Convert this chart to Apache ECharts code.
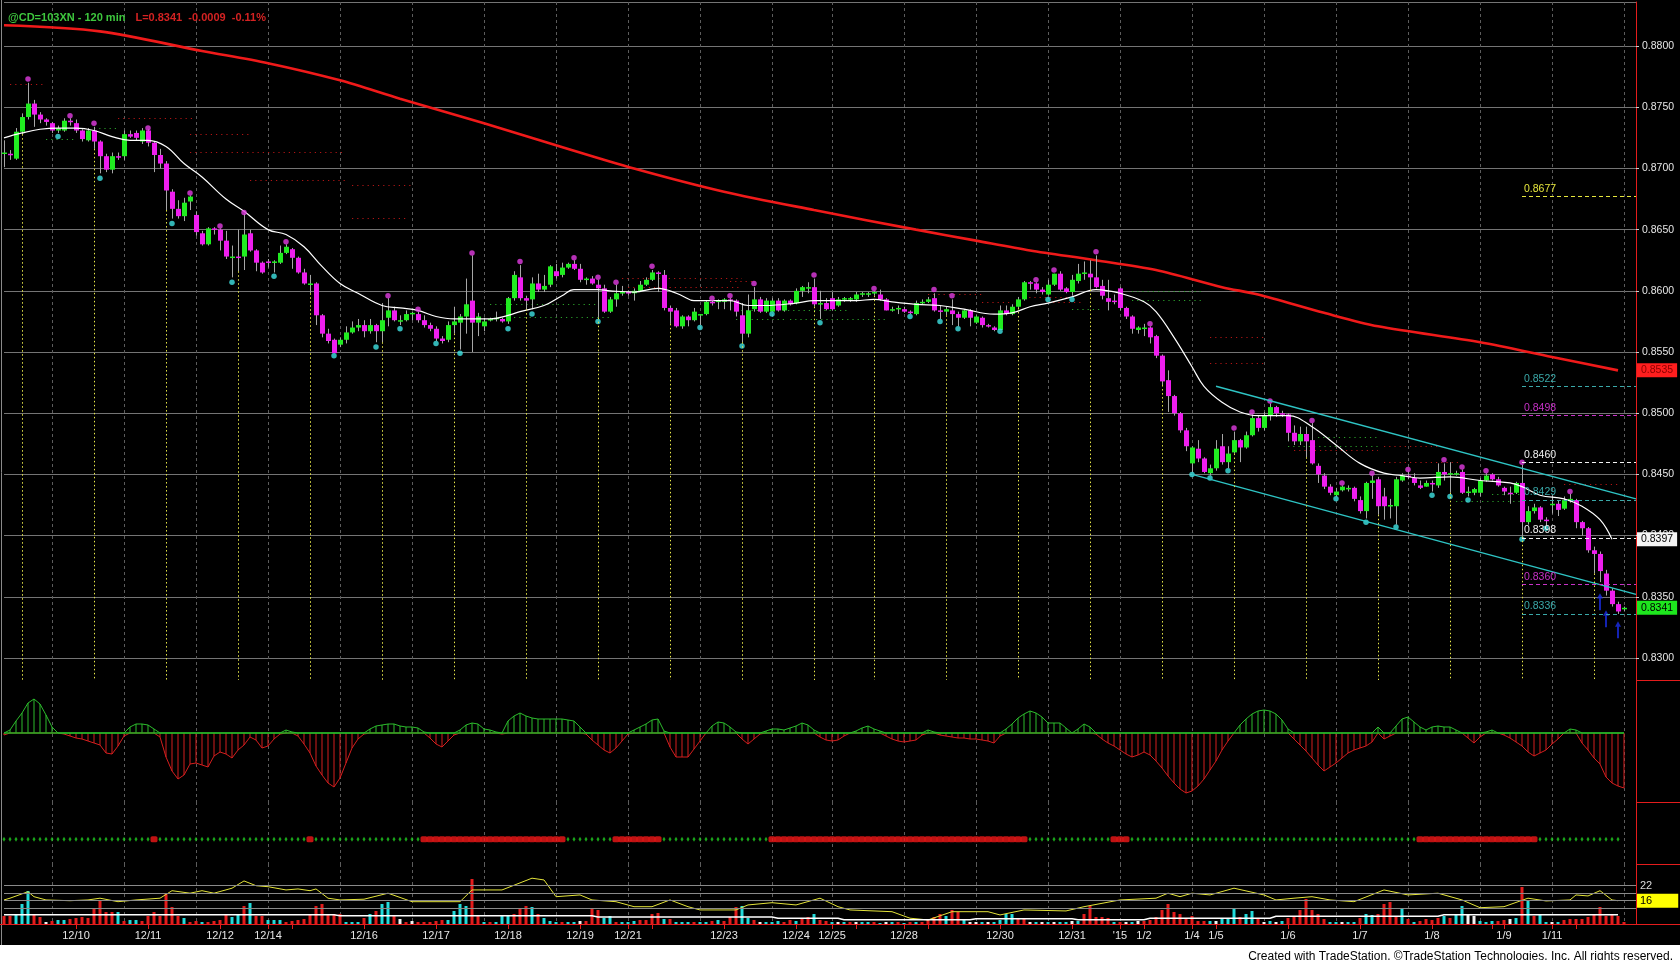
<!DOCTYPE html>
<html>
<head>
<meta charset="utf-8">
<title>@CD=103XN - 120 min</title>
<script src="https://cdn.jsdelivr.net/npm/echarts@6/dist/echarts.min.js"></script>
<style>
  html, body { margin: 0; padding: 0; background: #000; }
  #chart { width: 1680px; height: 960px; }
</style>
</head>
<body>
<div id="chart"></div>
<script>
// ===== data (prices in 1/10000, one entry per 120 min bar) =====
const opens = [
8712,8712,8708,8730,8742,8753,8744,8740,8737,8731, 8731,8739,8737,8731,8723,8731,8722,8710,8699,8710,
8710,8728,8729,8722,8731,8721,8711,8704,8681,8667, 8661,8673,8662,8647,8638,8651,8650,8641,8627,8628,
8628,8647,8633,8623,8624,8623,8623,8631,8634,8627, 8615,8605,8606,8580,8565,8560,8556,8560,8566,8570,
8572,8567,8572,8567,8578,8584,8575,8576,8581,8581, 8576,8572,8569,8561,8560,8572,8574,8579,8592,8574,
8571,8576,8577,8577,8575,8594,8611,8594,8593,8606, 8601,8605,8616,8613,8619,8622,8618,8609,8610,8605,
8602,8583,8593,8598,8599,8598,8600,8605,8609,8615, 8613,8586,8584,8571,8579,8576,8580,8581,8591,8591,
8591,8593,8592,8580,8565,8585,8593,8583,8583,8592, 8584,8592,8590,8600,8602,8603,8589,8590,8594,8588,
8593,8593,8593,8597,8597,8598,8597,8593,8584,8585, 8585,8583,8581,8590,8591,8594,8584,8583,8584,8581,
8578,8584,8574,8578,8572,8570,8568,8584,8581,8587, 8593,8607,8606,8601,8597,8605,8614,8602,8599,8608,
8614,8614,8611,8604,8594,8592,8602,8586,8579,8568, 8569,8570,8563,8547,8527,8514,8500,8486,8459,8471,
8463,8451,8455,8473,8460,8468,8478,8472,8482,8496, 8488,8498,8505,8500,8499,8484,8477,8483,8478,8457,
8449,8440,8433,8437,8438,8439,8429,8420,8443,8446, 8432,8424,8424,8445,8449,8447,8441,8440,8443,8441,
8452,8450,8450,8452,8435,8435,8435,8445,8450,8446, 8439,8435,8435,8443,8411,8420,8423,8413,8425,8426,
8422,8429,8429,8411,8406,8388,8385,8369,8355,8344, 8340
];
const closes = [
8713,8711,8730,8742,8753,8744,8740,8738,8731,8733, 8739,8738,8731,8724,8731,8722,8710,8699,8710,8709,
8728,8726,8725,8731,8721,8711,8704,8682,8667,8661, 8672,8677,8648,8638,8651,8650,8641,8628,8628,8627,
8646,8633,8623,8615,8623,8624,8631,8636,8627,8615, 8606,8606,8580,8565,8559,8549,8560,8566,8570,8572,
8567,8572,8567,8576,8584,8576,8576,8581,8582,8576, 8572,8569,8561,8559,8572,8575,8579,8589,8574,8579,
8575,8577,8578,8575,8594,8613,8594,8592,8606,8601, 8604,8620,8612,8619,8622,8618,8609,8610,8606,8602,
8583,8593,8598,8599,8598,8600,8605,8609,8615,8614, 8586,8583,8571,8579,8576,8583,8581,8591,8590,8592,
8593,8592,8583,8565,8584,8593,8583,8592,8592,8584, 8592,8589,8600,8603,8603,8589,8590,8585,8585,8593,
8594,8594,8597,8598,8598,8599,8593,8584,8585,8586, 8583,8582,8590,8591,8593,8584,8583,8585,8581,8578,
8584,8578,8579,8572,8571,8568,8584,8581,8587,8593, 8607,8606,8601,8599,8605,8614,8601,8599,8609,8614,
8615,8611,8603,8596,8591,8591,8586,8579,8569,8570, 8570,8562,8547,8526,8514,8500,8486,8473,8472,8463,
8452,8455,8471,8460,8467,8478,8472,8482,8496,8488, 8498,8505,8500,8499,8484,8477,8483,8477,8459,8450,
8440,8435,8436,8440,8439,8430,8420,8443,8445,8424, 8424,8425,8446,8449,8448,8443,8439,8443,8442,8452,
8450,8451,8451,8435,8436,8438,8445,8449,8446,8441, 8436,8434,8443,8411,8420,8423,8413,8412,8426,8421,
8429,8430,8411,8406,8388,8385,8371,8355,8344,8338, 8341
];
const highs = [
8723,8715,8733,8745,8770,8756,8746,8741,8738,8735, 8741,8741,8740,8732,8733,8734,8723,8712,8713,8713,
8731,8731,8731,8733,8732,8722,8716,8706,8683,8674, 8676,8678,8665,8649,8652,8652,8651,8649,8637,8650,
8663,8650,8634,8624,8626,8625,8637,8638,8635,8628, 8618,8613,8607,8581,8569,8561,8562,8571,8575,8577,
8576,8577,8573,8590,8594,8587,8580,8584,8583,8583, 8580,8574,8571,8563,8575,8587,8581,8610,8629,8582,
8578,8578,8583,8578,8595,8616,8621,8596,8611,8614, 8613,8621,8622,8623,8623,8625,8622,8611,8612,8609,
8605,8595,8605,8604,8600,8602,8608,8611,8617,8616, 8617,8588,8586,8580,8580,8586,8581,8592,8592,8593,
8594,8594,8593,8590,8597,8603,8595,8594,8594,8594, 8593,8593,8602,8604,8607,8610,8600,8594,8599,8595,
8595,8595,8599,8599,8599,8600,8601,8594,8587,8588, 8587,8584,8592,8593,8595,8598,8588,8587,8593,8583,
8585,8585,8580,8579,8573,8571,8588,8588,8589,8595, 8608,8608,8607,8603,8609,8614,8616,8603,8613,8622,
8624,8625,8629,8609,8609,8597,8603,8587,8580,8571, 8573,8571,8564,8548,8535,8515,8501,8488,8473,8478,
8464,8458,8478,8483,8473,8485,8479,8485,8499,8498, 8501,8508,8506,8502,8500,8490,8489,8489,8492,8459,
8451,8442,8439,8441,8441,8440,8432,8444,8449,8448, 8439,8430,8448,8451,8452,8451,8445,8445,8445,8459,
8459,8460,8453,8454,8440,8439,8447,8451,8451,8448, 8440,8440,8444,8458,8424,8426,8424,8415,8433,8429,
8432,8434,8430,8412,8407,8391,8387,8372,8357,8346, 8342
];
const lows = [
8701,8707,8707,8728,8740,8734,8737,8735,8729,8729, 8730,8735,8729,8722,8722,8716,8696,8697,8696,8707,
8707,8725,8723,8720,8718,8697,8700,8666,8659,8659, 8657,8666,8645,8637,8637,8646,8633,8626,8611,8616,
8617,8632,8616,8614,8619,8615,8622,8630,8618,8614, 8605,8598,8572,8562,8557,8549,8554,8557,8565,8567,
8562,8565,8558,8558,8571,8575,8572,8575,8576,8574, 8570,8567,8559,8557,8558,8565,8552,8565,8550,8563,
8567,8575,8575,8574,8573,8592,8592,8585,8585,8599, 8599,8603,8610,8611,8618,8617,8607,8605,8605,8578,
8582,8582,8587,8596,8596,8592,8599,8604,8608,8599, 8584,8573,8570,8569,8571,8575,8572,8580,8588,8585,
8585,8584,8579,8558,8562,8583,8582,8582,8583,8583, 8583,8588,8589,8595,8598,8587,8577,8584,8584,8587,
8591,8591,8591,8595,8595,8596,8592,8584,8583,8581, 8582,8581,8580,8589,8590,8583,8577,8580,8572,8571,
8577,8571,8573,8570,8570,8567,8569,8580,8580,8586, 8592,8601,8598,8597,8596,8604,8600,8598,8596,8606,
8609,8601,8602,8593,8584,8589,8584,8577,8565,8565, 8563,8557,8545,8523,8501,8498,8484,8469,8452,8460,
8451,8449,8453,8458,8455,8467,8460,8471,8481,8485, 8486,8494,8497,8497,8477,8474,8474,8464,8458,8443,
8438,8433,8432,8436,8436,8428,8418,8414,8430,8417, 8413,8414,8409,8444,8446,8441,8438,8440,8436,8439,
8445,8435,8449,8434,8432,8433,8432,8444,8445,8440, 8433,8426,8434,8399,8409,8418,8411,8408,8418,8416,
8421,8427,8406,8400,8386,8369,8362,8351,8342,8336, 8338
];

// swing markers
const highDotBars = [4,11,15,24,31,36,40,47,64,69,78,86,95,99,102,108,118,121,125,135,145,155,158,172,175,182,191,205,208,211,218,223,228,234,240,243,247,253,261];
const highDotVals = [8773,8743,8737,8733,8680,8653,8664,8640,8596,8585,8631,8624,8627,8611,8607,8620,8594,8596,8606,8613,8602,8601,8596,8609,8617,8632,8573,8488,8501,8510,8494,8443,8451,8454,8462,8456,8453,8460,8436];
const lowDotBars = [9,16,28,38,45,55,62,66,72,76,84,88,99,116,123,128,136,151,156,159,166,174,178,198,201,204,222,227,232,238,241,244,253,257];
const lowDotVals = [8726,8692,8655,8607,8612,8547,8554,8569,8557,8549,8569,8581,8575,8570,8555,8581,8574,8579,8575,8569,8567,8593,8593,8450,8447,8453,8430,8411,8407,8433,8432,8429,8397,8406];
const arrowBars = [266, 267, 269];
const arrowVals = [8346, 8332, 8323];

// averages: [bar, price]
const slowAvg = [[0,8817],[16,8812],[33,8796],[44,8786],[56,8772],[66,8757],[80,8737],[92,8719],[105,8700],[120,8681],[135,8666],[152,8650],[162,8641],[171,8633],[182,8625],[192,8617],[203,8603],[209,8597],[220,8582],[229,8571],[246,8558],[258,8546],[269,8535]];
const fastAvg = [[0,8725],[3,8729],[6,8732],[9,8733],[12,8733],[15,8731],[18,8726],[21,8723],[24,8723],[27,8718],[30,8704],[33,8693],[37,8675],[40,8665],[44,8650],[47,8646],[50,8636],[53,8620],[56,8606],[59,8598],[63,8588],[66,8586],[69,8584],[72,8579],[75,8577],[78,8577],[81,8577],[84,8580],[86,8583],[90,8588],[93,8596],[95,8601],[99,8601],[101,8600],[105,8599],[109,8602],[111,8600],[113,8596],[115,8592],[117,8592],[121,8592],[124,8588],[127,8588],[132,8590],[135,8592],[138,8592],[142,8592],[145,8593],[148,8591],[152,8589],[156,8588],[160,8585],[165,8581],[168,8582],[171,8587],[174,8590],[178,8595],[182,8601],[186,8598],[190,8591],[192,8583],[195,8562],[198,8538],[200,8522],[203,8509],[206,8501],[209,8498],[214,8498],[218,8489],[222,8474],[226,8459],[230,8451],[233,8449],[236,8447],[241,8448],[246,8445],[251,8443],[253,8440],[256,8433],[260,8430],[263,8424],[266,8413],[268,8397]];

// channel, session starts, day grid
const channelUpper = [[202, 8522], [272, 8430]];
const channelLower = [[198, 8450], [272, 8352]];
const sessionBars = [3,15,27,39,51,63,75,87,99,111,123,135,145,157,169,181,193,205,217,229,241,253,265];
const dayGridBars = [8,20,32,44,56,68,80,92,104,116,128,138,150,162,174,186,198,210,222,234,246,258,270];

// dotted support / resistance stubs: [from bar, to bar, price]
const redStubs = [[1,7,8769],[19,32,8741],[31,41,8728],[31,57,8713],[41,57,8690],[58,68,8686],[58,67,8659],[103,123,8610],[104,123,8603],[121,125,8608],[154,163,8597],[163,168,8591],[170,178,8595],[174,180,8591],[201,210,8562],[201,210,8541],[215,229,8470],[230,239,8473],[230,243,8460],[260,269,8442]];
const greenStubs = [[7,12,8724],[15,19,8733],[81,99,8589],[85,101,8578],[122,141,8584],[122,130,8577],[131,147,8577],[178,183,8585],[188,200,8600],[188,200,8592],[214,229,8473],[219,229,8480],[242,253,8428],[248,253,8434]];

// right side levels
const levelStart = 253;
const levelVals = [0.8677, 0.8522, 0.8498, 0.8460, 0.8429, 0.8398, 0.8360, 0.8336];
const tagVals = [0.8535, 0.8397, 0.8341];

// oscillator (one value per bar)
const osc = [
-2,3,12,20,30,34,29,18,6,0, -1,-3,-5,-6,-8,-10,-12,-20,-21,-13,
-3,6,9,9,8,4,-4,-24,-38,-46, -42,-31,-30,-32,-34,-23,-19,-21,-25,-17,
-12,-4,-7,-15,-13,-6,-1,3,1,-3, -11,-20,-33,-42,-50,-54,-45,-30,-15,-6,
-1,4,7,8,9,9,7,6,6,5, 1,-5,-11,-14,-8,-2,3,8,10,9,
4,3,1,-1,12,17,20,17,15,14, 14,14,14,14,13,12,6,-1,-7,-12,
-17,-20,-15,-8,-1,3,6,9,13,14, 2,-14,-24,-24,-24,-16,-8,0,7,11,
10,6,1,-6,-11,-6,-1,2,4,4, 3,5,7,10,8,3,-4,-7,-8,-7,
-3,0,2,5,7,4,2,-3,-6,-8, -9,-8,-7,-2,3,1,-2,-3,-4,-5,
-5,-6,-6,-7,-8,-10,-3,4,9,15, 19,22,20,16,10,10,10,5,0,4,
9,6,-1,-6,-10,-13,-17,-21,-24,-22, -19,-22,-28,-35,-43,-50,-56,-60,-58,-53,
-46,-37,-28,-17,-8,0,8,14,19,22, 23,22,19,13,4,-6,-12,-18,-25,-32,
-38,-34,-30,-25,-20,-17,-15,-13,-9,6, -6,-3,7,14,16,11,6,3,6,7,
6,6,3,0,-5,-10,-4,1,3,0, -2,-5,-9,-13,-19,-23,-20,-17,-11,-6,
0,4,3,-10,-17,-25,-31,-44,-50,-53, -55
];

// red runs in the dot row (inclusive bar ranges)
const redRuns = [[25,25],[51,51],[70,93],[102,109],[128,170],[185,187],[236,255]];
const dotLastBar = 269;

// volume and its colour code: r = down, c = up, w = unchanged
const vol = [
8,8,9,20,33,9,7,2,3,4, 4,5,6,7,6,15,24,12,12,12, 3,4,4,3,8,12,8,30,17,8, 6,2,3,2,2,3,4,9,7,10,
18,21,8,8,4,4,4,2,3,4, 5,9,18,20,10,10,10,2,2,2, 6,10,13,20,22,8,5,2,3,2, 2,2,3,4,4,13,20,18,45,8,
2,2,2,8,8,10,15,18,17,10, 6,3,2,2,2,2,3,3,16,14, 6,8,2,2,2,3,4,4,10,11, 5,5,2,2,2,2,2,2,3,4,
3,7,17,18,6,4,2,2,2,3, 2,4,3,5,7,10,4,3,2,2, 2,2,2,2,2,2,1,2,2,2, 1,2,2,2,5,7,10,8,14,12,
5,2,2,2,2,2,4,10,10,5, 5,2,2,2,2,2,2,2,3,3, 10,18,7,7,6,2,2,2,2,3, 3,4,7,14,20,12,10,5,8,3,
3,3,3,5,5,15,7,10,13,5, 2,3,2,3,6,8,14,25,14,10, 5,2,2,2,2,2,6,10,9,10, 20,22,8,16,5,2,3,5,4,6,
8,6,10,18,10,8,3,2,3,3, 4,5,6,37,23,8,9,2,2,2, 4,5,5,5,7,10,17,8,10,8, 2
];
const volKind =
  'rrcccrrwrc' + 'crrrrrrrrc' + 'rccrrrrrrr' + 'crrcrrrrcc' + 'rcrrcccrrr' +
  'rrrrrrrccc' + 'rcrccrwrwr' + 'rrrrccccrr' + 'crcccrrrcr' + 'cccrccwrrr' +
  'ccrcccrrrr' + 'crcccrccrc' + 'rrrccrwccc' + 'rrcrrcrrcw' + 'crwccrcwcr' +
  'crcrrrrcrr' + 'cwwcwccccr' + 'rwcwcwccwc' + 'rrrrrcrwcw' + 'rrrrrrrrrr' +
  'rcwcccrccr' + 'wcwcrrrrrr' + 'rccwccrccr' + 'rrrcrcrrrr' + 'crccwwcccr' +
  'rwcrcrccwc' + 'rrrrrrrrrr' + 'r';
const volAvg = [[0,9.3],[55,9.3],[56,8.3],[98,8.3],[99,7],[128,7],[129,5.7],[139,5.7],[140,4.3],[161,4.3],[162,5.3],[178,5.3],[179,4.3],[190,4.3],[191,5.7],[211,5.7],[212,7.7],[239,7.7],[240,9.3],[269,9.3]];
const yellowLine = [[0,16.3],[1,17.0],[4,19.6],[5,17.6],[7,16.3],[11,16.0],[14,16.3],[16,17.0],[19,15.6],[22,16.3],[26,17.0],[28,20.0],[31,19.0],[33,20.0],[35,19.0],[38,21.0],[40,23.9],[42,22.0],[44,21.6],[47,20.3],[49,20.7],[51,20.0],[52,20.7],[54,17.0],[56,16.3],[60,16.6],[64,19.0],[68,15.6],[76,15.6],[78,20.3],[83,20.3],[88,25.0],[90,24.3],[92,17.6],[96,18.3],[98,16.3],[102,15.6],[105,13.6],[108,13.6],[111,16.3],[114,13.6],[116,12.3],[122,12.3],[124,14.3],[128,15.2],[132,14.3],[136,17.0],[139,13.6],[141,12.3],[148,11.6],[151,9.0],[154,8.3],[158,11.6],[164,11.6],[166,10.3],[170,12.3],[177,11.9],[180,13.6],[186,16.3],[192,17.0],[194,19.0],[196,17.6],[198,19.0],[201,18.3],[205,21.0],[210,18.3],[212,16.3],[215,17.0],[218,17.6],[221,16.3],[225,15.6],[230,20.3],[234,18.3],[239,19.0],[243,16.3],[246,13.2],[250,13.6],[254,17.0],[257,15.9],[261,16.3],[262,18.3],[264,17.9],[266,20.0],[268,16.3],[269,16.0]];
const yellowRefs = [13, 16, 19, 22];

// date axis
const dateBars = [12,24,36,44,60,72,84,96,104,120,132,138,150,166,178,186,190,198,202,214,226,238,250,258];
const dateLabels = ['12/10','12/11','12/12','12/14','12/16','12/17','12/18','12/19','12/21','12/23','12/24','12/25','12/28','12/30','12/31',"'15",'1/2','1/4','1/5','1/6','1/7','1/8','1/9','1/11'];
const extraTickBars = [48, 108, 142, 154, 248, 262];

// ===== layout / style =====
const N_CAT = 273;
const PRICE_MIN = 0.8282, PRICE_MAX = 0.8836;
const FONT = 'Liberation Sans, Arial, sans-serif';
const GRID_L = 4, GRID_R = 44;
const levelColors = ['#e6e63c', '#3aa9a9', '#c832c8', '#f2f2f2', '#3aa9a9', '#f2f2f2', '#c832c8', '#3aa9a9'];
const tagStyles = [
  { bg: '#ff1e1e', fg: '#8c0000' },
  { bg: '#f4f4f4', fg: '#000' },
  { bg: '#1ee61e', fg: '#000' },
];
const volColors = { r: '#e41c1c', c: '#22dcdc', w: '#f2f2f2' };
const OSC_UP = '#2cbc2c', OSC_DN = '#d41e1e';
const HIDDEN = 'rgba(0,0,0,0)';

const px = v => v / 10000;
const cats = Array.from({ length: N_CAT }, (_, i) => String(i));
const daySet = new Set(dayGridBars);
const labelAt = {};
dateBars.forEach((b, k) => { labelAt[b] = dateLabels[k]; });
const tickSet = new Set(dateBars.concat(extraTickBars));

function xAxisFor(gi, withLabels) {
  return {
    type: 'category', gridIndex: gi, data: cats, boundaryGap: false,
    axisLine: { show: withLabels, onZero: false, lineStyle: { color: '#e41c1c', width: 1 } },
    axisTick: { show: withLabels, interval: i => tickSet.has(i), length: 5, lineStyle: { color: '#e41c1c' } },
    axisLabel: {
      show: withLabels, interval: i => labelAt[i] !== undefined, margin: 6,
      color: '#e6e6e6', fontSize: 11, fontFamily: FONT,
      formatter: (v, i) => labelAt[i] || '',
    },
    splitLine: { show: true, interval: i => daySet.has(i), lineStyle: { color: '#5c5c5c', type: [3, 3], width: 1 } },
  };
}

function sideAxis(gi, min, max) {
  return {
    type: 'value', gridIndex: gi, position: 'right', min, max,
    axisLine: { show: true, lineStyle: { color: '#e41c1c' } },
    axisTick: { show: false }, axisLabel: { show: false }, splitLine: { show: false },
  };
}

// ===== series =====
const candleData = opens.map((o, i) => [i, px(o), px(closes[i]), px(lows[i]), px(highs[i])]);

function renderCandle(params, api) {
  const i = api.value(0);
  const o = api.value(1), c = api.value(2), l = api.value(3), h = api.value(4);
  const pO = api.coord([i, o]), pC = api.coord([i, c]);
  const pH = api.coord([i, h]), pL = api.coord([i, l]);
  const cx = Math.round(pO[0]);
  const w = Math.max(3, Math.round(api.size([1, 0])[0] * 0.8));
  const top = Math.min(pO[1], pC[1]);
  const hgt = Math.max(1.5, Math.abs(pO[1] - pC[1]));
  return {
    type: 'group',
    children: [
      { type: 'line', shape: { x1: cx + 0.5, y1: pH[1], x2: cx + 0.5, y2: pL[1] }, style: { stroke: '#a6a6a6', lineWidth: 1 } },
      { type: 'rect', shape: { x: cx + 0.5 - w / 2, y: top, width: w, height: hgt }, style: { fill: c >= o ? '#20ec20' : '#ee1eee' } },
    ],
  };
}

// price tag on the axis: invisible line, boxed label at its right end
const tagLine = (v, k) => ({
  yAxis: v,
  lineStyle: { color: HIDDEN, width: 0 },
  label: {
    show: true, position: 'end', distance: 1, formatter: v.toFixed(4),
    backgroundColor: tagStyles[k].bg, color: tagStyles[k].fg,
    fontSize: 10.5, fontFamily: FONT, padding: [2, 4, 1, 4],
  },
});

const stubPairs = (list, color) => list.map(s => [
  { coord: [s[0], px(s[2])], lineStyle: { color } },
  { coord: [s[1], px(s[2])] },
]);

const series = [];

// price panel
series.push({
  name: 'bars', type: 'custom', xAxisIndex: 0, yAxisIndex: 0, renderItem: renderCandle,
  data: candleData, encode: { x: 0, y: [1, 2, 3, 4] }, z: 5,
});
series.push({
  name: 'slow', type: 'line', xAxisIndex: 0, yAxisIndex: 0, data: slowAvg.map(p => [p[0], px(p[1])]),
  smooth: 0.3, symbol: 'none', lineStyle: { color: '#f01a1a', width: 2.6 }, z: 4,
  markLine: {
    silent: true, symbol: 'none', animation: false, z: 10, precision: 5,
    data: [
      [{ coord: [channelUpper[0][0], px(channelUpper[0][1])] }, { coord: [channelUpper[1][0], px(channelUpper[1][1])] }],
      [{ coord: [channelLower[0][0], px(channelLower[0][1])] }, { coord: [channelLower[1][0], px(channelLower[1][1])] }],
      tagLine(tagVals[0], 0),
    ],
    lineStyle: { color: '#2ec4c4', width: 1.4, type: 'solid' },
    label: { show: false },
  },
});
series.push({
  name: 'fast', type: 'line', xAxisIndex: 0, yAxisIndex: 0, data: fastAvg.map(p => [p[0], px(p[1])]),
  smooth: 0.4, symbol: 'none', lineStyle: { color: '#ffffff', width: 1.2 }, z: 6,
  markLine: {
    silent: true, symbol: 'none', animation: false, z: 10, precision: 5,
    data: sessionBars.map(b => [{ coord: [b, px(lows[b])] }, { coord: [b, PRICE_MIN] }]).concat([tagLine(tagVals[1], 1)]),
    lineStyle: { color: '#e8e84a', width: 1, type: [1.5, 2.5] },
    label: { show: false },
  },
});
series.push({
  name: 'swing highs', type: 'scatter', xAxisIndex: 0, yAxisIndex: 0,
  data: highDotBars.map((b, k) => [b, px(highDotVals[k])]),
  symbol: 'circle', symbolSize: 5.5, itemStyle: { color: '#e23ce2' }, z: 7,
  markLine: {
    silent: true, symbol: 'none', animation: false, precision: 5,
    data: stubPairs(redStubs, '#b01414').concat(stubPairs(greenStubs, '#2aa02a')),
    lineStyle: { width: 1.2, type: [1.2, 4] },
    label: { show: false },
  },
});
series.push({
  name: 'swing lows', type: 'scatter', xAxisIndex: 0, yAxisIndex: 0,
  data: lowDotBars.map((b, k) => [b, px(lowDotVals[k])]),
  symbol: 'circle', symbolSize: 5.5, itemStyle: { color: '#3ee2e2' }, z: 7,
  markLine: {
    silent: true, symbol: 'none', animation: false, z: 10, precision: 5,
    data: levelVals.map((v, k) => [
      {
        coord: [levelStart, v], lineStyle: { color: levelColors[k] },
        label: { show: true, position: 'insideStartTop', distance: 2, formatter: v.toFixed(4), color: levelColors[k], fontSize: 10.5, fontFamily: FONT },
      },
      { coord: [N_CAT - 1, v] },
    ]).concat([tagLine(tagVals[2], 2)]),
    lineStyle: { width: 1, type: [4, 3] },
  },
});
series.push({
  name: 'arrows', type: 'scatter', xAxisIndex: 0, yAxisIndex: 0,
  data: arrowBars.map((b, k) => [b, px(arrowVals[k])]),
  symbol: 'path://M5 0 L10 7 L6.6 7 L6.6 22 L3.4 22 L3.4 7 L0 7 Z', symbolSize: [6, 17],
  itemStyle: { color: '#1a2ee8' }, z: 8,
});

// oscillator panel: histogram lines, outline split by sign, green zero line
series.push({
  name: 'osc bars', type: 'bar', xAxisIndex: 1, yAxisIndex: 1, data: osc, barWidth: 1,
  itemStyle: { color: p => (p.value >= 0 ? OSC_UP : OSC_DN) },
});
series.push({
  name: 'osc dn', type: 'line', xAxisIndex: 1, yAxisIndex: 1, data: osc.map(v => Math.min(v, 0)),
  symbol: 'none', lineStyle: { color: OSC_DN, width: 1 }, z: 3,
});
series.push({
  name: 'osc up', type: 'line', xAxisIndex: 1, yAxisIndex: 1, data: osc.map(v => Math.max(v, 0)),
  symbol: 'none', lineStyle: { color: OSC_UP, width: 1 }, z: 5,
  markLine: {
    silent: true, symbol: 'none', animation: false, label: { show: false },
    data: [[{ coord: [0, 0] }, { coord: [osc.length - 1, 0] }]],
    lineStyle: { color: '#24b424', width: 1.5, type: 'solid' },
  },
});

// dot row panel
const redSet = new Set();
redRuns.forEach(r => { for (let b = r[0]; b <= r[1]; b++) redSet.add(b); });
const greenDots = [], redDots = [];
for (let b = 0; b <= dotLastBar; b++) (redSet.has(b) ? redDots : greenDots).push([b, 0.4]);
series.push({
  name: 'trend ok', type: 'scatter', xAxisIndex: 2, yAxisIndex: 2, data: greenDots,
  symbol: 'diamond', symbolSize: [3, 5], itemStyle: { color: '#22d022' },
});
series.push({
  name: 'trend off', type: 'scatter', xAxisIndex: 2, yAxisIndex: 2, data: redDots,
  symbol: 'roundRect', symbolSize: [7, 6], itemStyle: { color: '#f01818' },
});

// volume panel
series.push({
  name: 'volume', type: 'bar', xAxisIndex: 3, yAxisIndex: 4, barWidth: 3,
  data: vol.map((v, i) => ({ value: v, itemStyle: { color: volColors[volKind[i]] } })),
});
series.push({
  name: 'vol avg', type: 'line', xAxisIndex: 3, yAxisIndex: 4, data: volAvg,
  symbol: 'none', lineStyle: { color: '#ffffff', width: 1.5 }, z: 4,
});
series.push({
  name: 'yellow', type: 'line', xAxisIndex: 3, yAxisIndex: 3, data: yellowLine,
  symbol: 'none', lineStyle: { color: '#e4e43a', width: 1 },
  markLine: {
    silent: true, symbol: 'none', animation: false,
    lineStyle: { color: '#8a8a8a', width: 1, type: 'solid' },
    data: yellowRefs.map(v => {
      const d = { yAxis: v, label: { show: false } };
      if (v === 22) d.label = { show: true, position: 'end', distance: 4, formatter: '22', color: '#dcdcdc', fontSize: 11, fontFamily: FONT };
      if (v === 16) d.label = { show: true, position: 'end', distance: 1, formatter: '16', color: '#000', backgroundColor: '#ffff00', fontSize: 11, fontFamily: FONT, padding: [2, 26, 1, 3] };
      return d;
    }),
  },
});

// ===== chart =====
const chart = echarts.init(document.getElementById('chart'));
chart.setOption({
  backgroundColor: '#000',
  animation: false,
  title: [
    {
      text: '{g|@CD=103XN - 120 min}  {r|L=0.8341  -0.0009  -0.11%}', left: 3, top: 4,
      textStyle: { rich: {
        g: { color: '#3ec83e', fontSize: 11, fontFamily: FONT },
        r: { color: '#d42222', fontSize: 11, fontFamily: FONT },
      } },
    },
    {
      text: 'Created with TradeStation. \u00A9TradeStation Technologies, Inc. All rights reserved.',
      right: 2, top: 946,
      textStyle: { color: '#000', fontSize: 12, fontWeight: 'normal', fontFamily: 'Liberation Sans Narrow, Liberation Sans, Arial' },
    },
  ],
  grid: [
    { left: GRID_L, right: GRID_R, top: 2, height: 678 },
    { left: GRID_L, right: GRID_R, top: 680, height: 122 },
    { left: GRID_L, right: GRID_R, top: 802, height: 62 },
    { left: GRID_L, right: GRID_R, top: 864, height: 60 },
  ],
  xAxis: [xAxisFor(0, false), xAxisFor(1, false), xAxisFor(2, false), xAxisFor(3, true)],
  yAxis: [
    {
      type: 'value', gridIndex: 0, position: 'right', min: PRICE_MIN, max: PRICE_MAX, splitNumber: 11,
      axisLine: { show: true, lineStyle: { color: '#e41c1c' } },
      axisTick: { show: true, length: 3, lineStyle: { color: '#cfcfcf' } },
      axisLabel: { color: '#e6e6e6', fontSize: 10.5, fontFamily: FONT, margin: 6, showMinLabel: false, showMaxLabel: false, formatter: v => v.toFixed(4) },
      splitLine: { show: true, showMinLine: false, lineStyle: { color: '#747474', width: 1 } },
    },
    sideAxis(1, -69, 53),
    sideAxis(2, 0, 1),
    sideAxis(3, 6.68, 30.68),
    { type: 'value', gridIndex: 3, min: 0, max: 60, show: false },
  ],
  graphic: [
    { type: 'rect', shape: { x: 0, y: 945, width: 1680, height: 15 }, style: { fill: '#ffffff' }, z: -1 },
    { type: 'line', shape: { x1: 1.5, y1: 0, x2: 1.5, y2: 945 }, style: { stroke: '#8a8a8a', lineWidth: 1 } },
    { type: 'line', shape: { x1: 1636, y1: 680.5, x2: 1680, y2: 680.5 }, style: { stroke: '#e41c1c', lineWidth: 1 } },
    { type: 'line', shape: { x1: 1636, y1: 802.5, x2: 1680, y2: 802.5 }, style: { stroke: '#e41c1c', lineWidth: 1 } },
    { type: 'line', shape: { x1: 1636, y1: 864.5, x2: 1680, y2: 864.5 }, style: { stroke: '#e41c1c', lineWidth: 1 } },
    { type: 'line', shape: { x1: 0, y1: 924.5, x2: 1680, y2: 924.5 }, style: { stroke: '#e41c1c', lineWidth: 1 } },
  ],
  series,
});
window.addEventListener('resize', () => chart.resize());
</script>
</body>
</html>
